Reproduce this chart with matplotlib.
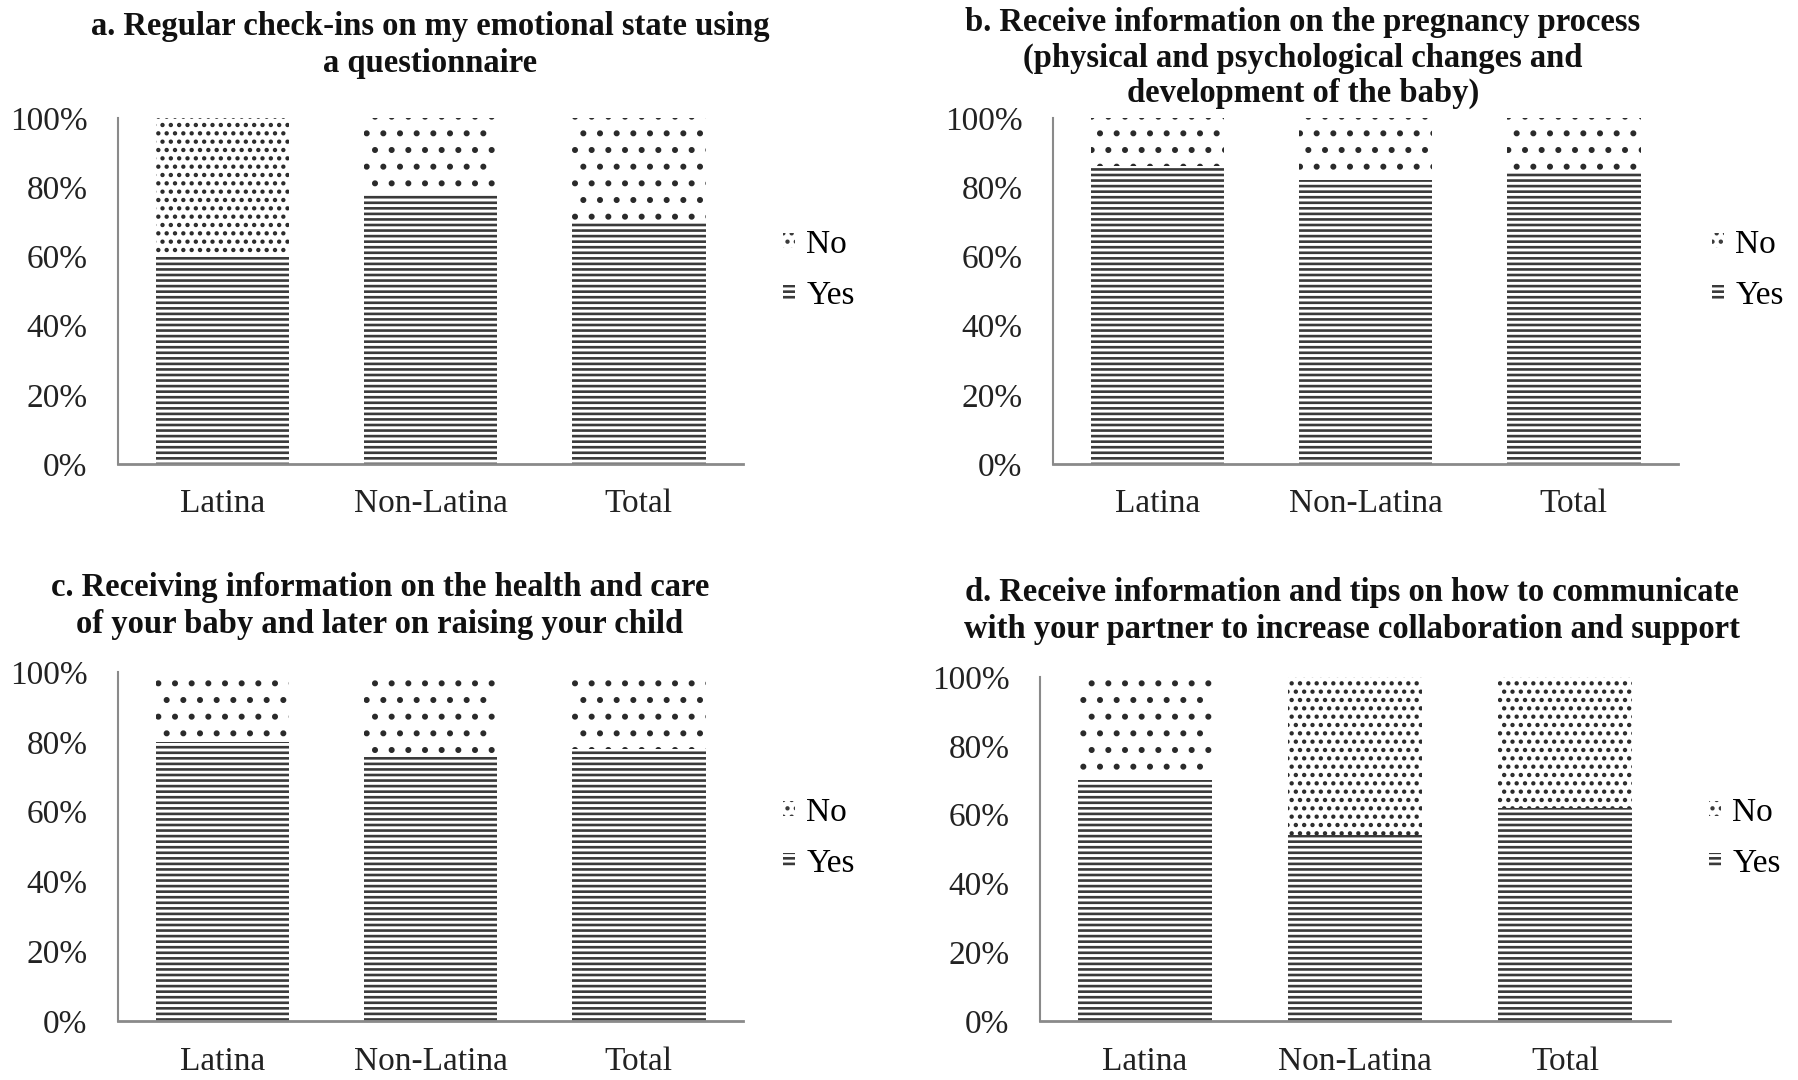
import matplotlib
matplotlib.use("Agg")
import matplotlib.pyplot as plt
from matplotlib.patches import Patch
from matplotlib.ticker import FuncFormatter

plt.rcParams['font.family'] = ['Liberation Serif', 'DejaVu Serif']
plt.rcParams['hatch.linewidth'] = 1.9

categories = ["Latina", "Non-Latina", "Total"]
yes_a = [0.60, 0.78, 0.70]
yes_b = [0.86, 0.82, 0.84]
yes_c = [0.80, 0.76, 0.78]
yes_d = [0.70, 0.54, 0.62]
yticks = [0, 0.2, 0.4, 0.6, 0.8, 1.0]

title_a = "a. Regular check-ins on my emotional state using\na questionnaire"
title_b = ("b. Receive information on the pregnancy process\n"
           "(physical and psychological changes and\ndevelopment of the baby)")
title_c = ("c. Receiving information on the health and care\n"
           "of your baby and later on raising your child")
title_d = ("d. Receive information and tips on how to communicate\n"
           "with your partner to increase collaboration and support")

W, H = 1798, 1080
fig = plt.figure(figsize=(W / 100, H / 100), dpi=100)


def px_axes(l, r, t, b):
    return fig.add_axes([l / W, 1 - b / H, (r - l) / W, (b - t) / H])


# dot hatch density for the "No" segments (per bar)
no_hatch = {
    'a': ['..', '.', '.'],
    'b': ['.', '.', '.'],
    'c': ['.', '.', '.'],
    'd': ['.', '..', '..'],
}

panels = [
    ('a', yes_a, title_a, (118, 743, 118, 464), (430, 45, 1.24), (783, 270)),
    ('b', yes_b, title_b, (1053, 1678, 118, 464), (1303, 58, 1.16), (1712, 270)),
    ('c', yes_c, title_c, (118, 743, 672, 1021), (380, 606, 1.24), (783, 838)),
    ('d', yes_d, title_d, (1040, 1670, 677, 1021), (1352, 611, 1.24), (1709, 838)),
]

hatch_col = '#3a3a3a'
for key, yes, title, box, tpos, lpos in panels:
    ax = px_axes(*box)
    no = [1 - v for v in yes]
    x = list(range(len(categories)))
    ax.bar(x, yes, width=0.64, color='white', edgecolor=hatch_col,
           hatch='---', linewidth=0)
    for xi, b0, h, hp in zip(x, yes, no, no_hatch[key]):
        ax.bar(xi, h, bottom=b0, width=0.64, color='white', edgecolor='#2a2a2a',
               hatch=hp, linewidth=0)
    ax.set_xlim(-0.5, 2.5)
    ax.set_ylim(0, 1)
    ax.set_yticks(yticks)
    ax.yaxis.set_major_formatter(FuncFormatter(lambda v, p: f"{v*100:.0f}%"))
    ax.set_xticks(x)
    ax.set_xticklabels(categories)
    ax.tick_params(axis='both', length=0, labelsize=24, colors='#222222')
    ax.tick_params(axis='y', pad=22)
    ax.tick_params(axis='x', pad=18)
    for s in ['top', 'right']:
        ax.spines[s].set_visible(False)
    ax.spines['left'].set_color('#8a8a8a')
    ax.spines['left'].set_linewidth(1.5)
    ax.spines['bottom'].set_color('#8a8a8a')
    ax.spines['bottom'].set_linewidth(2.0)
    fig.text(tpos[0] / W, 1 - tpos[1] / H, title, ha='center', va='center',
             fontsize=23.5, fontweight='bold', linespacing=tpos[2], color='#111111')
    handles = [Patch(facecolor='white', edgecolor=hatch_col, hatch='..', linewidth=0),
               Patch(facecolor='white', edgecolor=hatch_col, hatch='---', linewidth=0)]
    fig.legend(handles, ["No", "Yes"], loc='center left',
               bbox_to_anchor=(lpos[0] / W, 1 - lpos[1] / H),
               frameon=False, fontsize=24, handlelength=0.35, handleheight=0.3,
               handletextpad=0.35, labelspacing=0.62, borderpad=0, borderaxespad=0)

fig.savefig("out.png", dpi=100, facecolor='white')
